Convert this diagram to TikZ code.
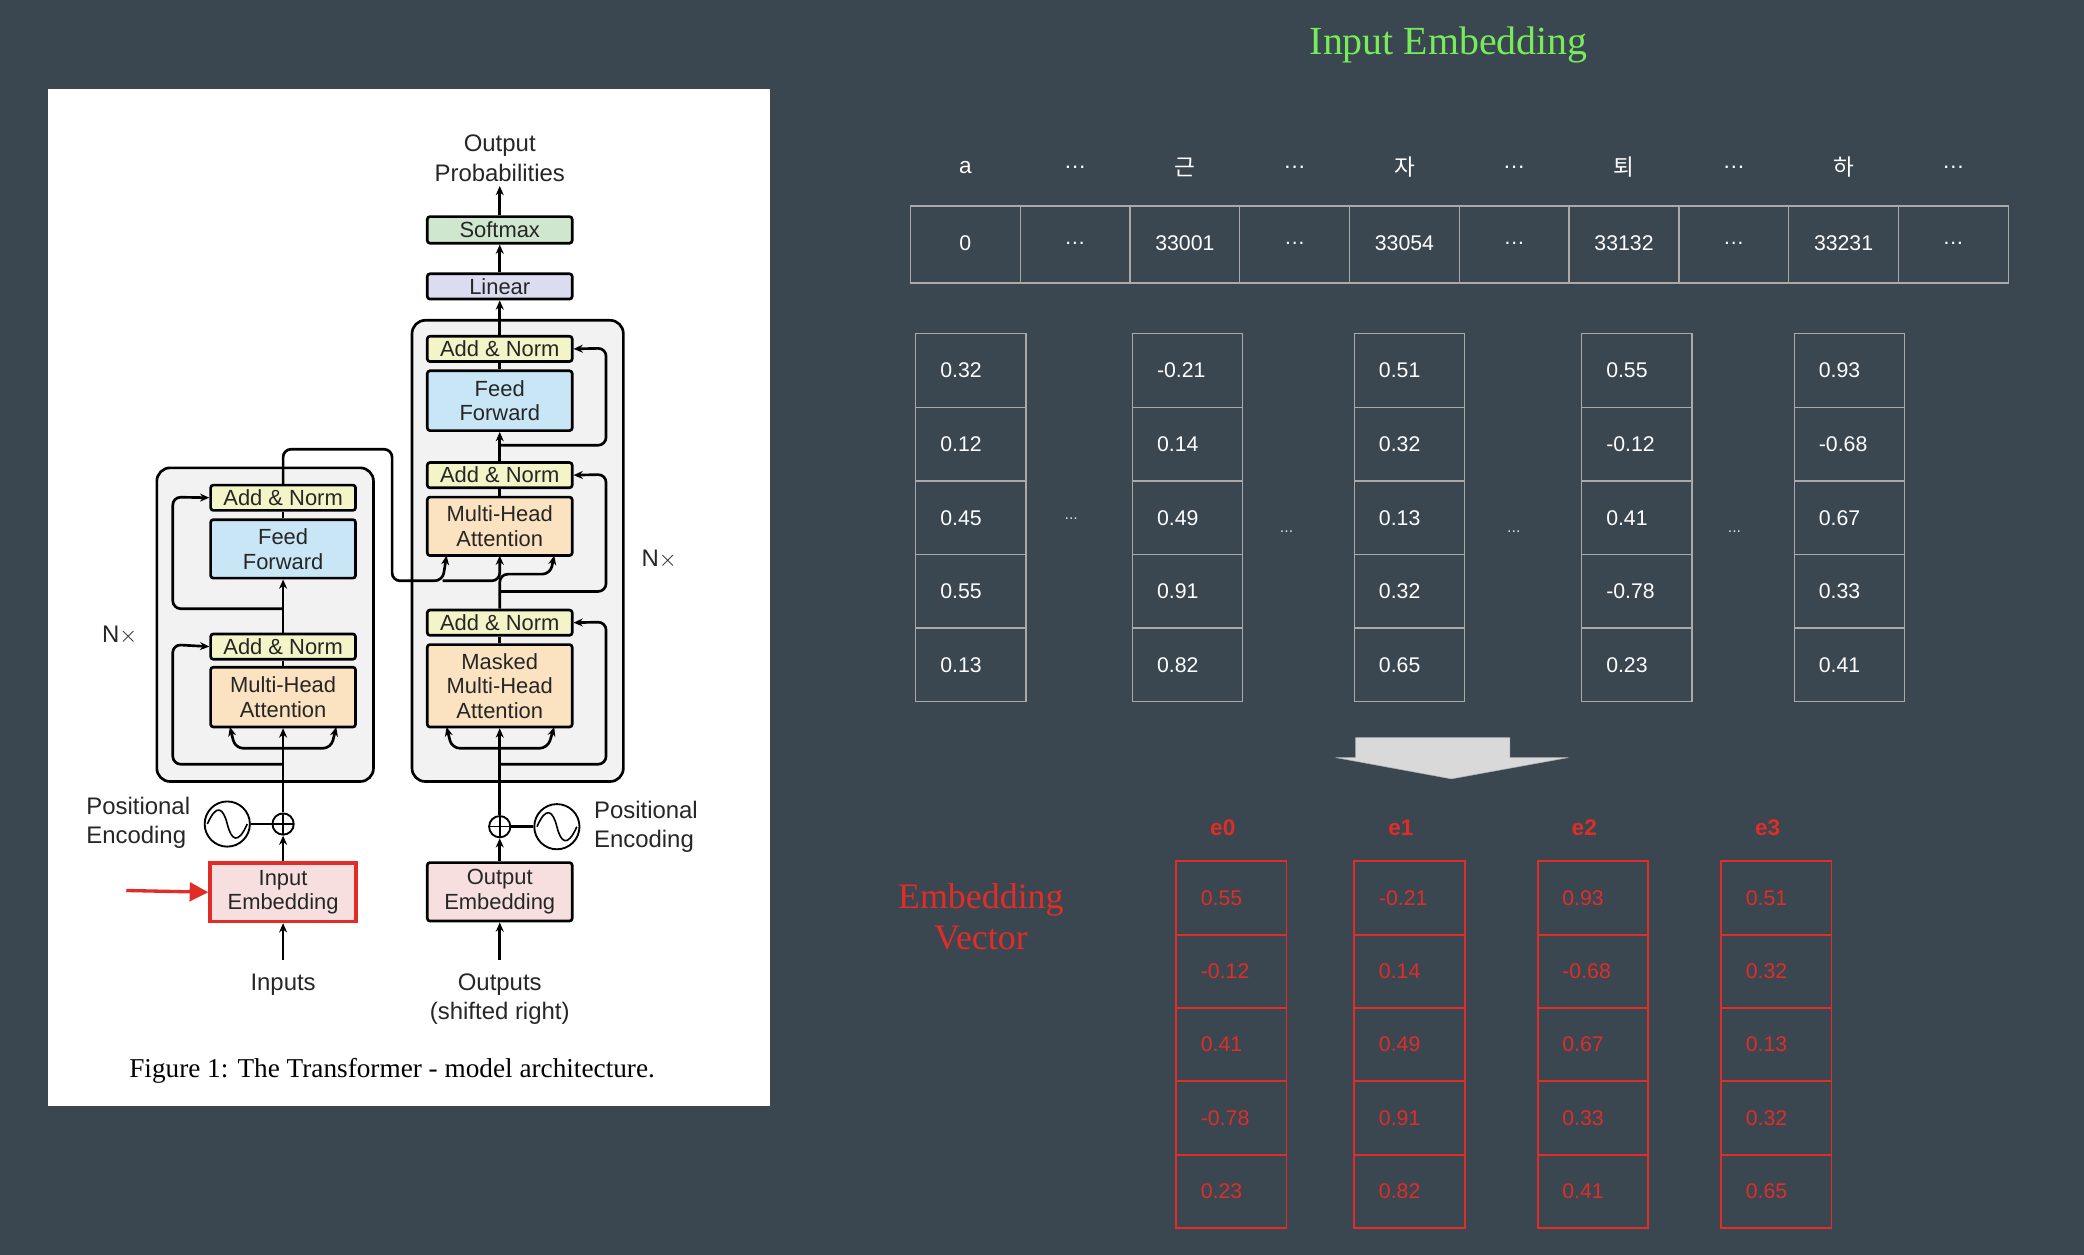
\documentclass[tikz,border=0pt]{standalone}
\usepackage{fontspec}
\setmainfont{Liberation Sans}
\newfontfamily\serifx{Liberation Serif}
\newfontfamily\kr{Noto Sans CJK KR}
\usetikzlibrary{arrows.meta}
\definecolor{bg}{RGB}{58,70,80}
\definecolor{an}{RGB}{243,245,200}
\definecolor{ff}{RGB}{200,230,245}
\definecolor{mh}{RGB}{251,226,192}
\definecolor{sm}{RGB}{207,230,207}
\definecolor{li}{RGB}{220,220,240}
\definecolor{em}{RGB}{247,223,224}
\definecolor{gtitle}{RGB}{120,235,90}
\definecolor{rd}{RGB}{225,45,40}
\definecolor{cellb}{RGB}{170,170,170}
\tikzset{
 blk/.style={draw=black,line width=2pt,rounded corners=2pt,inner sep=0pt,align=center,font=\fontsize{16.5}{18.5}\selectfont,text=black!85},
 ln/.style={line width=2pt,rounded corners=6pt},
 ar/.style={ln,-{Stealth[length=7pt,width=6pt]}},
 cell/.style={draw=cellb,line width=1pt},
 ctext/.style={text=white,font=\fontsize{16}{18}\selectfont},
 rcell/.style={draw=rd,line width=1.4pt},
 rtext/.style={text=rd,font=\fontsize{16}{18}\selectfont},
}
\begin{document}
\begin{tikzpicture}[x=1pt,y=-1pt]
\useasboundingbox (0,0) rectangle (1568,944);
\fill[bg] (0,0) rectangle (1568,944);
\fill[white] (36,67) rectangle (579,832);
% outer blocks
\draw[line width=2pt,rounded corners=10pt,fill=black!5] (118,352) rectangle (281,588);
\draw[line width=2pt,rounded corners=10pt,fill=black!5] (310,241) rectangle (469,588);
% boxes
\def\bx#1#2#3#4#5#6{\node[blk,fill=#2,minimum width=109pt,minimum height=#4pt,anchor=north] (#1) at (#5,#3) {#6};}
\bx{eAN2}{an}{364}{19}{213}{Add \& Norm}
\bx{eFF}{ff}{390}{44}{213}{Feed\\Forward}
\bx{eAN1}{an}{476}{19}{213}{Add \& Norm}
\bx{eMH}{mh}{501}{45}{213}{Multi-Head\\Attention}
\bx{dAN3}{an}{252}{19}{376}{Add \& Norm}
\bx{dFF}{ff}{278}{45}{376}{Feed\\Forward}
\bx{dAN2}{an}{347}{19}{376}{Add \& Norm}
\bx{dMH}{mh}{373}{44}{376}{Multi-Head\\Attention}
\bx{dAN1}{an}{458}{19}{376}{Add \& Norm}
\bx{dMM}{mh}{484}{62}{376}{Masked\\Multi-Head\\Attention}
\bx{lin}{li}{205}{19}{376}{Linear}
\bx{soft}{sm}{162}{20}{376}{Softmax}
\bx{oemb}{em}{648}{44}{376}{Output\\Embedding}
\node[blk,draw=rd,line width=2.6pt,fill=em,minimum width=110pt,minimum height=44pt,anchor=north,rounded corners=0pt] (iemb) at (213,648) {Input\\Embedding};
% texts
\tikzset{lbl/.style={font=\fontsize{18}{22}\selectfont,text=black!85,align=center}}
\node[lbl] (oprob) at (376,119) {Output\\Probabilities};
\node[lbl] (inp) at (213,741) {Inputs};
\node[lbl] (outp) at (376,752) {Outputs\\(shifted right)};
\node[lbl,align=left] (pe1) at (104,619) {Positional\\Encoding};
\node[lbl,align=left] (pe2) at (486,622) {Positional\\Encoding};
\node[lbl] (nx1) at (90,478) {N$\times$};
\node[lbl] (nx2) at (496,421) {N$\times$};
\node[font=\serifx\fontsize{20.5}{22}\selectfont] (cap) at (295,806) {Figure 1: The Transformer - model architecture.};
% pos enc
\node[draw,circle,line width=1.4pt,minimum size=16pt,inner sep=0pt] (p1) at (213,620) {};
\draw[line width=1.2pt] (205,620)--(221,620) (213,612)--(213,628);
\node[draw,circle,line width=1.4pt,minimum size=34pt,inner sep=0pt] (s1) at (171,620) {};
\draw[line width=1.2pt] (156,620) .. controls (163,604) and (168,608) .. (171,620) .. controls (174,632) and (179,636) .. (186,620);
\node[draw,circle,line width=1.4pt,minimum size=16pt,inner sep=0pt] (p2) at (376,622) {};
\draw[line width=1.2pt] (368,622)--(384,622) (376,614)--(376,630);
\node[draw,circle,line width=1.4pt,minimum size=34pt,inner sep=0pt] (s2) at (419,622) {};
\draw[line width=1.2pt] (404,622) .. controls (411,606) and (416,610) .. (419,622) .. controls (422,634) and (427,638) .. (434,622);
\draw[ln] (s1)--(p1); \draw[ln] (s2)--(p2);
% red arrow
\coordinate (ra) at (95,670);
\draw[rd,line width=2.5pt,-{Triangle[length=14pt,width=14pt]}] (ra)--(iemb.west);
% encoder arrows
\coordinate (iin) at (213,722); \coordinate (oin) at (376,722);
\draw[ar] (iin)--(iemb.south); \draw[ar] (oin)--(oemb.south);
\draw[ar] (iemb.north)--(p1.south); \draw[ar] (oemb.north)--(p2.south);
\draw[ar] (p1.north)--(eMH.south);
\draw[ar] (213,563) -- (177,563) -- (173,547);
\draw[ar] (213,563) -- (249,563) -- (253,547);
\draw[ar] (213,575) -- (130,575) -- (130,485) -- (eAN1.west);
\draw[ln] (eMH.north)--(eAN1.south);
\draw[ar] (eAN1.north)--(eFF.south);
\draw[ar] (213,458) -- (130,458) -- (130,374) -- (eAN2.west);
\draw[ln] (eFF.north)--(eAN2.south);
\draw[ar] (eAN2.north) -- (213,338) -- (295,338) -- (295,437) -- (333,437) -- (336,418);
\draw[ar] (333,437) -- (376,437) -- (376,418);
% decoder arrows
\draw[ar] (p2.north)--(dMM.south);
\draw[ar] (376,563) -- (340,563) -- (336,547);
\draw[ar] (376,563) -- (412,563) -- (417,547);
\draw[ar] (376,575) -- (456,575) -- (456,468) -- (dAN1.east);
\draw[ln] (dMM.north)--(dAN1.south);
\draw[ar] (dAN1.north) -- (376,432) -- (414,432) -- (417,418);
\draw[ar] (376,445) -- (456,445) -- (456,357) -- (dAN2.east);
\draw[ln] (dMH.north)--(dAN2.south);
\draw[ar] (dAN2.north)--(dFF.south);
\draw[ar] (376,335) -- (456,335) -- (456,262) -- (dAN3.east);
\draw[ln] (dFF.north)--(dAN3.south);
\draw[ar] (dAN3.north)--(lin.south);
\draw[ar] (lin.north)--(soft.south);
\draw[ar] (soft.north)--(oprob.south);
% right side
\node[font=\serifx\fontsize{30}{32}\selectfont,text=gtitle] (title) at (1090,34) {Input Embedding};
\foreach \i/\h/\v in {0/a/0,1/…/…,2/{\kr 근}/33001,3/…/…,4/{\kr 자}/33054,5/…/…,6/{\kr 퇴}/33132,7/…/…,8/{\kr 하}/33231,9/…/…}{
  \pgfmathsetmacro\xa{685+82.6*\i}
  \node[ctext,font=\fontsize{17}{18}\selectfont] (h\i) at (\xa+41.3,126) {\h};
  \draw[cell] (\xa,155) rectangle ++(82.6,58);
  \node[ctext] (v\i) at (\xa+41.3,183) {\v};
}
\def\col#1#2#3{\foreach \r/\t [count=\k from 0] in {#3}{
  \draw[cell] (#1,251+55.4*\k) rectangle ++(83,55.4);
  \node[ctext,anchor=west] (c#2\k) at (#1+15,278.7+55.4*\k) {\t};}}
\col{689}{a}{0.32,0.12,0.45,0.55,0.13}
\col{852}{b}{-0.21,0.14,0.49,0.91,0.82}
\col{1019}{c}{0.51,0.32,0.13,0.32,0.65}
\col{1190}{d}{0.55,-0.12,0.41,-0.78,0.23}
\col{1350}{e}{0.93,-0.68,0.67,0.33,0.41}
\foreach \x/\y [count=\k] in {806/390,968/400,1139/400,1305/400}{\node[text=white!80!bg,font=\fontsize{12}{12}\selectfont] (dd\k) at (\x,\y) {...};}
\fill[black!15,draw=black!30] (1020,555) -- (1136,555) -- (1136,570) -- (1180,570) -- (1092,586) -- (1005,570) -- (1020,570) -- cycle;
\node[font=\serifx\fontsize{27}{31}\selectfont,text=rd,align=center] (ev) at (738,690) {Embedding\\Vector};
\def\rcol#1#2#3#4{\node[text=rd,font=\bfseries\fontsize{17}{18}\selectfont] (l#2) at (#1+35,623) {#4};
 \foreach \t [count=\k from 0] in {#3}{
  \draw[rcell] (#1,648+55.2*\k) rectangle ++(83,55.2);
  \node[rtext,anchor=west] (r#2\k) at (#1+15,675.6+55.2*\k) {\t};}}
\rcol{885}{a}{0.55,-0.12,0.41,-0.78,0.23}{e0}
\rcol{1019}{b}{-0.21,0.14,0.49,0.91,0.82}{e1}
\rcol{1157}{c}{0.93,-0.68,0.67,0.33,0.41}{e2}
\rcol{1295}{d}{0.51,0.32,0.13,0.32,0.65}{e3}
\end{tikzpicture}
\end{document}
